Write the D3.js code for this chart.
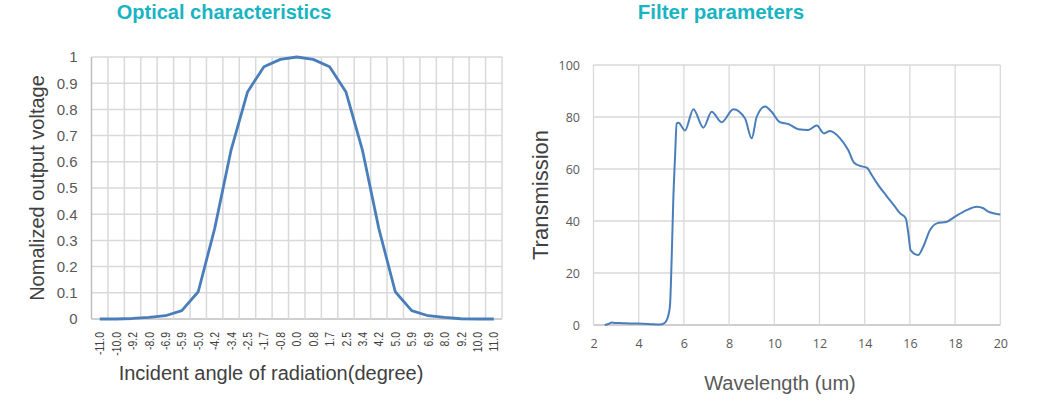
<!DOCTYPE html>
<html>
<head>
<meta charset="utf-8">
<script src="https://cdn.jsdelivr.net/npm/d3@7"></script>
<style>
  body { margin: 0; background: #fff; }
  svg { display: block; font-family: "Liberation Sans", Arial, sans-serif; }
</style>
</head>
<body>
<svg id="chart" width="1054" height="416"></svg>
<script>
// left chart: optical characteristics
const angleLabels = ['-11.0', '-10.0', '-9.2', '-8.0', '-6.9', '-5.9', '-5.0', '-4.2', '-3.4', '-2.5', '-1.7', '-0.8',
  '0.0', '0.8', '1.7', '2.5', '3.4', '4.2', '5.0', '5.9', '6.9', '8.0', '9.2', '10.0', '11.0']
const outputVoltage = [0, 0, 0.002, 0.006, 0.0125, 0.032, 0.104, 0.345, 0.645, 0.866, 0.963, 0.991,
  1.0, 0.991, 0.963, 0.866, 0.645, 0.345, 0.104, 0.032, 0.0125, 0.006, 0.001, 0, 0]
const voltageTicks = [0, 0.1, 0.2, 0.3, 0.4, 0.5, 0.6, 0.7, 0.8, 0.9, 1]

// right chart: filter parameters
const wavelength = [2.5, 2.65, 2.81, 2.95, 3.3, 3.6, 4.2, 4.6, 4.94, 5.1, 5.24, 5.38, 5.46, 5.53, 5.61, 5.68, 5.76,
  6.05, 6.42, 6.86, 7.23, 7.67, 8.19, 8.7, 9.0, 9.22, 9.59, 9.88, 10.25, 10.62, 11.06, 11.5, 11.88, 12.2, 12.46,
  12.91, 13.27, 13.53, 13.79, 14.09, 14.31, 14.6, 14.97, 15.34, 15.56, 15.82, 15.93, 16.03, 16.37, 16.59, 16.89,
  17.19, 17.63, 18.0, 18.51, 18.96, 19.25, 19.47, 20.0]
const transmission = [0, 0.4, 1.0, 0.8, 0.7, 0.6, 0.5, 0.3, 0.2, 0.5, 1.9, 7, 26, 48, 65, 77.5, 77.8,
  74.8, 83, 75.9, 82, 78, 83, 79.5, 71.8, 80, 84, 82, 78, 77.3, 75.3, 75, 76.7, 73.7, 74.6,
  71.8, 67.3, 62.4, 61.2, 60.5, 57.7, 53.8, 49.6, 45.5, 43, 41, 35.3, 28.8, 26.9, 30.1, 36.5,
  39.1, 39.7, 41.7, 44.2, 45.5, 44.9, 43.6, 42.5]
const wavelengthTicks = [2, 4, 6, 8, 10, 12, 14, 16, 18, 20]
const transmissionTicks = [0, 20, 40, 60, 80, 100]

const LINE_COLOR = '#4a7ebb'
const GRID_COLOR = '#d9d9d9'
const AXIS_COLOR = '#bfbfbf'
const TITLE_COLOR = '#19b4c2'

const svg = d3.select('#chart')

function cleanAxis (g) {
  g.select('.domain').remove()
  g.selectAll('.tick line').remove()
  g.selectAll('.tick text').attr('fill', '#595959')
}

//
// Optical characteristics
const left = { x0: 91.5, x1: 502, y0: 319, y1: 57 }

const xBand = d3.scaleBand()
  .domain(angleLabels)
  .range([left.x0, left.x1])
  .padding(0)

const yVolt = d3.scaleLinear()
  .domain([0, 1])
  .range([left.y0, left.y1])

const leftChart = svg.append('g')

// gridlines
leftChart.append('g')
  .selectAll('line')
  .data(voltageTicks)
  .join('line')
  .attr('x1', left.x0)
  .attr('x2', left.x1)
  .attr('y1', d => yVolt(d))
  .attr('y2', d => yVolt(d))
  .attr('stroke', d => d === 0 ? AXIS_COLOR : GRID_COLOR)
  .attr('stroke-width', 1.5)

leftChart.append('g')
  .selectAll('line')
  .data([...angleLabels.map(d => xBand(d)), left.x1])
  .join('line')
  .attr('x1', d => d)
  .attr('x2', d => d)
  .attr('y1', left.y0)
  .attr('y2', left.y1)
  .attr('stroke', (d, i) => i === 0 ? AXIS_COLOR : GRID_COLOR)
  .attr('stroke-width', 1.5)

// axes
leftChart.append('g')
  .attr('transform', `translate(${left.x0},0)`)
  .call(d3.axisLeft(yVolt).tickValues(voltageTicks).tickSize(0).tickPadding(14)
    .tickFormat(d => String(+d.toFixed(1))))
  .call(cleanAxis)
  .selectAll('.tick text')
  .attr('font-size', 15)
  .attr('font-family', '"Liberation Sans", Arial, sans-serif')

leftChart.append('g')
  .attr('transform', `translate(0,${left.y0})`)
  .call(d3.axisBottom(xBand).tickSize(0))
  .call(cleanAxis)
  .selectAll('.tick text')
  .attr('font-size', 13)
  .attr('font-family', '"Liberation Sans", Arial, sans-serif')
  .attr('fill', '#404040')
  .attr('text-anchor', 'end')
  .attr('transform', 'rotate(-90) scale(0.8,1)')
  .attr('x', -13 / 0.8)
  .attr('y', 0)
  .attr('dy', '0.35em')

// line
leftChart.append('path')
  .datum(angleLabels.map((a, i) => [a, outputVoltage[i]]))
  .attr('fill', 'none')
  .attr('stroke', LINE_COLOR)
  .attr('stroke-width', 2.8)
  .attr('stroke-linejoin', 'round')
  .attr('d', d3.line()
    .x(d => xBand(d[0]) + xBand.bandwidth() / 2)
    .y(d => yVolt(d[1])))

// titles
leftChart.append('text')
  .attr('x', 224)
  .attr('y', 19)
  .attr('text-anchor', 'middle')
  .attr('font-size', 20)
  .attr('font-weight', 'bold')
  .attr('fill', TITLE_COLOR)
  .text('Optical characteristics')

leftChart.append('text')
  .attr('transform', `translate(44,${(left.y0 + left.y1) / 2}) rotate(-90)`)
  .attr('text-anchor', 'middle')
  .attr('font-size', 20)
  .attr('fill', '#404040')
  .text('Nomalized output voltage')

leftChart.append('text')
  .attr('x', 271)
  .attr('y', 380)
  .attr('text-anchor', 'middle')
  .attr('font-size', 20)
  .attr('fill', '#404040')
  .text('Incident angle of radiation(degree)')

//
// Filter parameters
const right = { x0: 593.5, x1: 1000.3, y0: 325, y1: 65 }

const xWave = d3.scaleLinear()
  .domain([2, 20])
  .range([right.x0, right.x1])

const yTrans = d3.scaleLinear()
  .domain([0, 100])
  .range([right.y0, right.y1])

const rightChart = svg.append('g')

rightChart.append('g')
  .selectAll('line')
  .data(transmissionTicks)
  .join('line')
  .attr('x1', right.x0)
  .attr('x2', right.x1)
  .attr('y1', d => yTrans(d))
  .attr('y2', d => yTrans(d))
  .attr('stroke', d => d === 0 ? AXIS_COLOR : GRID_COLOR)
  .attr('stroke-width', 1.3)

rightChart.append('g')
  .selectAll('line')
  .data(wavelengthTicks)
  .join('line')
  .attr('x1', d => xWave(d))
  .attr('x2', d => xWave(d))
  .attr('y1', right.y0)
  .attr('y2', right.y1)
  .attr('stroke', GRID_COLOR)
  .attr('stroke-width', 1.3)

rightChart.append('g')
  .attr('transform', `translate(${right.x0},0)`)
  .call(d3.axisLeft(yTrans).tickValues(transmissionTicks).tickSize(0).tickPadding(13.5))
  .call(cleanAxis)
  .selectAll('.tick text')
  .attr('font-size', 12.5)
  .attr('font-family', '"Open Sans", sans-serif')

rightChart.append('g')
  .attr('transform', `translate(0,${right.y0})`)
  .call(d3.axisBottom(xWave).tickValues(wavelengthTicks).tickSize(0).tickPadding(14))
  .call(cleanAxis)
  .selectAll('.tick text')
  .attr('font-size', 12.5)
  .attr('font-family', '"Open Sans", sans-serif')

rightChart.append('path')
  .datum(wavelength.map((w, i) => [w, transmission[i]]))
  .attr('fill', 'none')
  .attr('stroke', LINE_COLOR)
  .attr('stroke-width', 2)
  .attr('stroke-linejoin', 'round')
  .attr('d', d3.line()
    .curve(d3.curveMonotoneX)
    .x(d => xWave(d[0]))
    .y(d => yTrans(d[1])))

rightChart.append('text')
  .attr('x', 721)
  .attr('y', 19)
  .attr('text-anchor', 'middle')
  .attr('font-size', 20.5)
  .attr('font-weight', 'bold')
  .attr('fill', TITLE_COLOR)
  .text('Filter parameters')

rightChart.append('text')
  .attr('transform', `translate(548,${(right.y0 + right.y1) / 2}) rotate(-90)`)
  .attr('text-anchor', 'middle')
  .attr('font-size', 22)
  .attr('fill', '#404040')
  .text('Transmission')

rightChart.append('text')
  .attr('x', 780)
  .attr('y', 390)
  .attr('text-anchor', 'middle')
  .attr('font-size', 20)
  .attr('fill', '#595959')
  .text('Wavelength (um)')
</script>
</body>
</html>
